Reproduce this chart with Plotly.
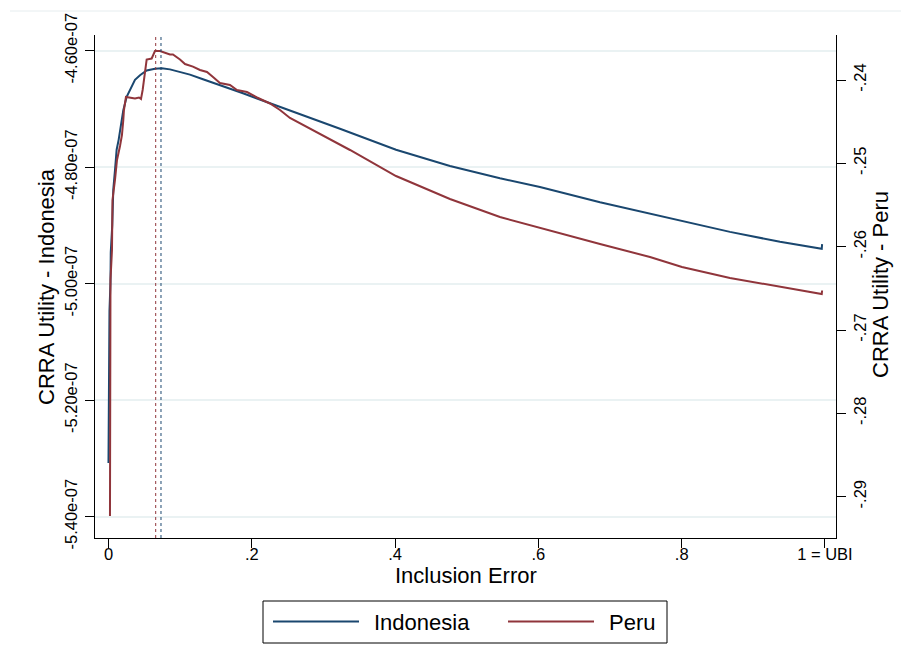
import plotly.graph_objects as go

# ---------------- data ----------------
indonesia_x = [0.000, 0.001, 0.0014, 0.0028, 0.0032, 0.0053, 0.0067, 0.0091, 0.0114, 0.0142,
               0.0161, 0.0207, 0.0254, 0.0300, 0.0370, 0.0440, 0.0533, 0.0649, 0.0743, 0.0858,
               0.0998, 0.1137, 0.1319, 0.1514, 0.1696, 0.1877, 0.2073, 0.2254, 0.2533, 0.3231,
               0.4013, 0.4766, 0.5464, 0.6022, 0.6860, 0.8004, 0.8674, 0.9372, 0.9651, 0.9955, 0.9960]
indonesia_y = [-5.308e-7, -5.126e-7, -5.047e-7, -4.997e-7, -4.946e-7, -4.899e-7, -4.839e-7, -4.805e-7,
               -4.770e-7, -4.753e-7, -4.736e-7, -4.702e-7, -4.679e-7, -4.667e-7, -4.650e-7, -4.642e-7,
               -4.634e-7, -4.631e-7, -4.630e-7, -4.632e-7, -4.637e-7, -4.641e-7, -4.649e-7, -4.657e-7,
               -4.665e-7, -4.673e-7, -4.682e-7, -4.690e-7, -4.703e-7, -4.734e-7, -4.770e-7, -4.798e-7,
               -4.819e-7, -4.834e-7, -4.860e-7, -4.892e-7, -4.911e-7, -4.928e-7, -4.934e-7, -4.940e-7,
               -4.932e-7]

peru_x = [0.0021, 0.0028, 0.0049, 0.0056, 0.0091, 0.0119, 0.0161, 0.0188, 0.0207, 0.0216,
          0.0244, 0.0300, 0.0370, 0.0426, 0.0454, 0.0477, 0.0509, 0.0533, 0.0603, 0.0649,
          0.0719, 0.0789, 0.0858, 0.0900, 0.0998, 0.1068, 0.1179, 0.1277, 0.1375, 0.1459,
          0.1556, 0.1696, 0.1793, 0.1933, 0.2073, 0.2254, 0.2394, 0.2533, 0.2952, 0.3371,
          0.4013, 0.4766, 0.5464, 0.6022, 0.6860, 0.7558, 0.8004, 0.8674, 0.9372, 0.9955, 0.9960]
peru_y = [-0.29232, -0.2640, -0.2604, -0.2544, -0.2520, -0.2496, -0.24792, -0.2466, -0.2448, -0.2436,
          -0.24204, -0.2421, -0.24222, -0.2421, -0.24228, -0.2412, -0.2388, -0.23754, -0.23742, -0.23652,
          -0.23652, -0.2367, -0.23694, -0.23694, -0.23754, -0.23808, -0.2384, -0.2388, -0.23904, -0.23964,
          -0.24036, -0.2406, -0.2412, -0.24144, -0.2421, -0.24282, -0.2436, -0.24456, -0.24648, -0.2484,
          -0.25152, -0.25428, -0.25644, -0.25776, -0.25968, -0.26124, -0.26244, -0.26376, -0.26484, -0.26568,
          -0.26526]

peak_peru = 0.0659
peak_indonesia = 0.0733

series_names = ["Indonesia", "Peru"]

x_ticks = [0, 0.2, 0.4, 0.6, 0.8, 1.0]
x_ticktext = ["0", ".2", ".4", ".6", ".8", "1 = UBI"]
left_ticks = [-4.6e-7, -4.8e-7, -5.0e-7, -5.2e-7, -5.4e-7]
left_ticktext = ["-4.60e-07", "-4.80e-07", "-5.00e-07", "-5.20e-07", "-5.40e-07"]
right_ticks = [-0.24, -0.25, -0.26, -0.27, -0.28, -0.29]
right_ticktext = ["-.24", "-.25", "-.26", "-.27", "-.28", "-.29"]

x_title = "Inclusion Error"
left_title = "CRRA Utility - Indonesia"
right_title = "CRRA Utility - Peru"

# ---------------- styles ----------------
NAVY = "#1a476f"
MAROON = "#90353b"
FONT = "Liberation Sans, Arial, sans-serif"
OFF = 8                      # default page body margin
W, H = 909 - OFF, 668 - OFF
L, R, T, B = 95, 836, 35, 538   # plot area in window pixels


def px_x(p):
    return (p - L) / (R - L)


def px_y(p):
    return (B - p) / (B - T)


fig = go.Figure()
fig.add_trace(go.Scatter(x=indonesia_x, y=indonesia_y, mode="lines", name=series_names[0],
                         line=dict(color=NAVY, width=2), yaxis="y", showlegend=False))
fig.add_trace(go.Scatter(x=peru_x, y=peru_y, mode="lines", name=series_names[1],
                         line=dict(color=MAROON, width=2), yaxis="y2", showlegend=False))

shapes = []
for xv, col in [(peak_peru, MAROON), (peak_indonesia, NAVY)]:
    shapes.append(dict(type="line", xref="x", yref="paper", x0=xv, x1=xv, y0=0, y1=1,
                       line=dict(color=col, width=1, dash="3px,3px"), layer="above"))

# faint outer border line at top
shapes.append(dict(type="line", xref="paper", yref="paper", x0=px_x(10), x1=px_x(909),
                   y0=px_y(11), y1=px_y(11), line=dict(color="#e6edef", width=1)))

# manual legend
shapes.append(dict(type="rect", xref="paper", yref="paper", x0=px_x(263), x1=px_x(667),
                   y0=px_y(601), y1=px_y(643), line=dict(color="black", width=1),
                   fillcolor="white"))
shapes.append(dict(type="line", xref="paper", yref="paper", x0=px_x(273), x1=px_x(359),
                   y0=px_y(621.5), y1=px_y(621.5), line=dict(color=NAVY, width=2)))
shapes.append(dict(type="line", xref="paper", yref="paper", x0=px_x(508), x1=px_x(594),
                   y0=px_y(621.5), y1=px_y(621.5), line=dict(color=MAROON, width=2)))

annotations = [
    dict(text=series_names[0], xref="paper", yref="paper", x=px_x(372), y=px_y(622),
         xanchor="left", yanchor="middle", showarrow=False, font=dict(size=22, color="black", family=FONT)),
    dict(text=series_names[1], xref="paper", yref="paper", x=px_x(607), y=px_y(622),
         xanchor="left", yanchor="middle", showarrow=False, font=dict(size=22, color="black", family=FONT)),
    dict(text=x_title, xref="paper", yref="paper", x=px_x(466), y=px_y(575),
         xanchor="center", yanchor="middle", showarrow=False, font=dict(size=22, color="black", family=FONT)),
    dict(text=left_title, xref="paper", yref="paper", x=px_x(46), y=px_y(287),
         xanchor="center", yanchor="middle", textangle=-90, showarrow=False,
         font=dict(size=22, color="black", family=FONT)),
    dict(text=right_title, xref="paper", yref="paper", x=px_x(880), y=px_y(284),
         xanchor="center", yanchor="middle", textangle=-90, showarrow=False,
         font=dict(size=22, color="black", family=FONT)),
]

tickfont = dict(size=16.5, color="black", family=FONT)

fig.update_layout(
    width=W, height=H,
    margin=dict(l=L - OFF, r=W - (R - OFF), t=T - OFF, b=H - (B - OFF), autoexpand=False),
    paper_bgcolor="white", plot_bgcolor="white",
    font=dict(family=FONT, color="black"),
    xaxis=dict(range=[-0.0188, 1.0154], tickvals=x_ticks, ticktext=x_ticktext,
               showgrid=False, zeroline=False, showline=True, linecolor="black", linewidth=1,
               ticks="outside", ticklen=9, tickcolor="black", tickfont=tickfont,
               ticklabelstandoff=-8),
    yaxis=dict(range=[-5.4366e-7, -4.573e-7], tickvals=left_ticks, ticktext=left_ticktext,
               tickangle=-90, showgrid=True, gridcolor="#eaf2f3", gridwidth=1.5,
               zeroline=False, showline=True, linecolor="black", linewidth=1,
               ticks="outside", ticklen=9, tickcolor="black", tickfont=tickfont,
               ticklabelstandoff=1),
    yaxis2=dict(range=[-0.29496, -0.2346], tickvals=right_ticks, ticktext=right_ticktext,
                tickangle=-90, overlaying="y", side="right", showgrid=False, zeroline=False,
                showline=True, linecolor="black", linewidth=1,
                ticks="outside", ticklen=9, tickcolor="black", tickfont=tickfont),
    shapes=shapes,
    annotations=annotations,
    showlegend=False,
)

fig.write_html("out.html")
